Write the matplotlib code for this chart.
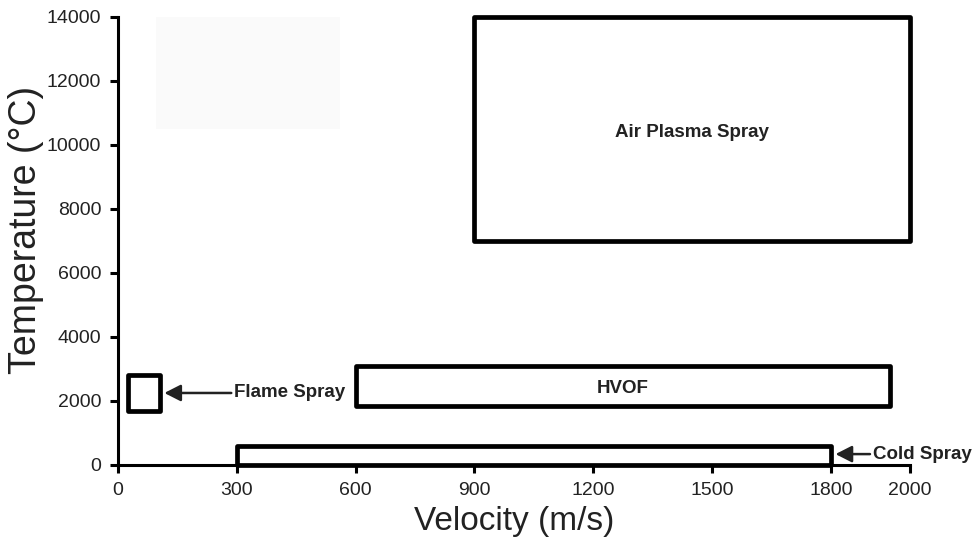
import matplotlib
matplotlib.use("Agg")
import matplotlib.pyplot as plt
from matplotlib.patches import Rectangle

plt.rcParams['font.family'] = ['Liberation Sans', 'DejaVu Sans']

# Process windows: (name, v_min, v_max, T_min, T_max)
processes = ["Air Plasma Spray", "HVOF", "Flame Spray", "Cold Spray"]
vel_min = [900, 600, 25, 300]
vel_max = [2000, 1950, 105, 1800]
temp_min = [7000, 1850, 1700, 0]
temp_max = [14000, 3100, 2800, 600]

x_ticks = [0, 300, 600, 900, 1200, 1500, 1800, 2000]
y_ticks = [0, 2000, 4000, 6000, 8000, 10000, 12000, 14000]

# faint shaded region in the upper left
shade_v = [95, 560]
shade_t = [10500, 14000]

fig = plt.figure(figsize=(9.77, 5.46), dpi=100)
ax = fig.add_axes([0.1208, 0.1484, 0.8106, 0.8205])
ax.set_xlim(0, 2000)
ax.set_ylim(0, 14000)

ax.add_patch(Rectangle((shade_v[0], shade_t[0]), shade_v[1] - shade_v[0],
                       shade_t[1] - shade_t[0], facecolor='#fafafa',
                       edgecolor='none', zorder=0))

txt = '#222222'
for name, v0, v1, t0, t1 in zip(processes, vel_min, vel_max, temp_min, temp_max):
    ax.add_patch(Rectangle((v0, t0), v1 - v0, t1 - t0, fill=False,
                           edgecolor='black', lw=3.4, joinstyle='round',
                           clip_on=False, zorder=3))

# labels inside the large windows
for i in (0, 1):
    ax.text((vel_min[i] + vel_max[i]) / 2, (temp_min[i] + temp_max[i]) / 2 - 100,
            processes[i], ha='center', va='center', fontsize=13.5,
            fontweight='bold', color=txt)

# labels with arrows for the small windows
arrow = dict(arrowstyle='-|>,head_length=0.55,head_width=0.28', lw=1.8,
             color=txt, shrinkA=0, shrinkB=0, mutation_scale=18)
ax.annotate(processes[2], xy=(vel_max[2] + 12, (temp_min[2] + temp_max[2]) / 2),
            xytext=(293, (temp_min[2] + temp_max[2]) / 2), ha='left', va='center',
            fontsize=13.5, fontweight='bold', color=txt, arrowprops=arrow,
            annotation_clip=False)
ax.annotate(processes[3], xy=(vel_max[3] + 12, temp_max[3] / 2 + 40),
            xytext=(1906, temp_max[3] / 2 + 40), ha='left', va='center',
            fontsize=13.5, fontweight='bold', color=txt, arrowprops=arrow,
            annotation_clip=False)

ax.set_xticks(x_ticks)
ax.set_yticks(y_ticks)
ax.tick_params(direction='out', length=6, width=2.2, labelsize=14,
               colors='black', labelcolor=txt, pad=6)
for s in ('top', 'right'):
    ax.spines[s].set_visible(False)
for s in ('left', 'bottom'):
    ax.spines[s].set_linewidth(2.2)

ax.set_xlabel('Velocity (m/s)', fontsize=24, color=txt, labelpad=5)
ax.set_ylabel('Temperature (°C)', fontsize=27, color=txt)
ax.yaxis.set_label_coords(-0.093, 0.525)

fig.savefig('out.png', dpi=100, facecolor='white')
